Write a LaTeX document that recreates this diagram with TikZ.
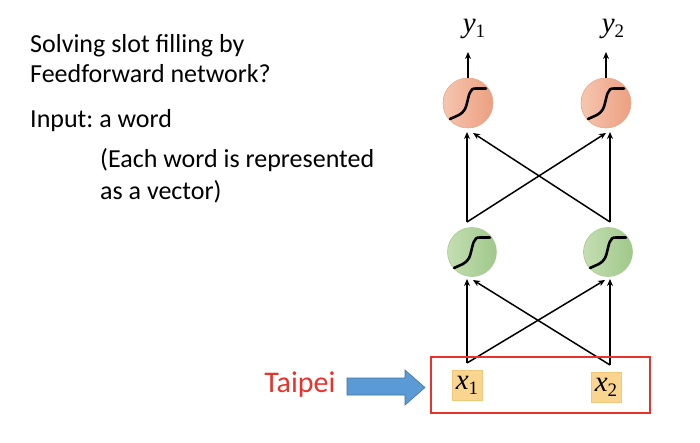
\documentclass[tikz,border=0pt]{standalone}
\usepackage{fontspec}
\setmainfont{Carlito}
\newfontfamily\tms{Liberation Serif}
\usetikzlibrary{arrows.meta}
\definecolor{orL}{HTML}{F6C6B0}
\definecolor{orR}{HTML}{EC9F80}
\definecolor{orB}{HTML}{E9A585}
\definecolor{grL}{HTML}{C4DEB2}
\definecolor{grR}{HTML}{A0C88A}
\definecolor{grB}{HTML}{A9CB94}
\definecolor{boxF}{HTML}{F9D590}
\definecolor{boxB}{HTML}{F1C77A}
\definecolor{redR}{HTML}{E8322B}
\definecolor{blueA}{HTML}{5B9BD5}
\definecolor{blueB}{HTML}{41719C}
\newcommand{\vlab}[2]{{\tms\fontsize{29}{29}\selectfont\itshape #1\/}{\tms\fontsize{19}{19}\selectfont\raisebox{-5pt}{#2}}}
\frenchspacing
\tikzset{
  neuronO/.style={circle,minimum size=50pt,inner sep=0pt,shading=axis,left color=orL,right color=orR,draw=orB,line width=0.6pt},
  neuronG/.style={circle,minimum size=49pt,inner sep=0pt,shading=axis,left color=grL,right color=grR,draw=grB,line width=0.6pt},
  conn/.style={line width=1.5pt,-{Stealth[length=7pt,width=6pt]}},
  inbox/.style={fill=boxF,draw=boxB,line width=0.5pt,minimum width=30pt,minimum height=30pt,inner sep=0pt},
  txt/.style={anchor=base west,inner sep=0pt,font=\fontsize{26}{30}\selectfont},
  sigmoid/.pic={\draw[line width=2.6pt,line cap=round] (-18,-16) .. controls (-12,-13) and (-6,-12) .. (-3,-6) .. controls (0,0) and (0,10) .. (4,13.5) .. controls (5,14.3) and (6,14.5) .. (8,14.5) -- (18,14.5);}
}
\begin{document}
\begin{tikzpicture}[x=1pt,y=1pt]
\useasboundingbox (0,0) rectangle (700,442);
% left text
\node[txt] (t1) at (30,389) {Solving slot filling by};
\node[txt] (t2) at (30,359) {Feedforward network?};
\node[txt] (t3) at (30,314) {Input: a word};
\node[txt] (t4) at (100,274) {(Each word is represented};
\node[txt] (t5) at (100,242) {as a vector)};
% neurons
\node[neuronO] (o1) at (468,339) {};
\node[neuronO] (o2) at (606,339) {};
\node[neuronG] (h1) at (472,190) {};
\node[neuronG] (h2) at (608,190) {};
\pic at (o1) {sigmoid};
\pic at (o2) {sigmoid};
\pic at (h1) {sigmoid};
\pic at (h2) {sigmoid};
% outputs
\coordinate (y1t) at (468,390);
\coordinate (y2t) at (606,390);
\draw[conn] (o1.north) -- (y1t);
\draw[conn] (o2.north) -- (y2t);
\node[anchor=base,inner sep=0pt] (y1) at (474,409) {\vlab{y}{1}};
\node[anchor=base,inner sep=0pt] (y2) at (613,409) {\vlab{y}{2}};
% hidden to output
\coordinate (hs1) at (467,220);
\coordinate (hs2) at (610,220);
\coordinate (ot1) at (467,310);
\coordinate (ot1b) at (473,309);
\coordinate (ot2) at (610,310);
\coordinate (ot2b) at (606,309);
\draw[conn] (hs1) -- (ot1);
\draw[conn] (hs1) -- (ot2b);
\draw[conn] (hs2) -- (ot2);
\draw[conn] (hs2) -- (ot1b);
% input to hidden
\coordinate (is1) at (467,79);
\coordinate (is2) at (610,77);
\coordinate (ht1) at (467,163);
\coordinate (ht1b) at (473,162);
\coordinate (ht2) at (610,163);
\coordinate (ht2b) at (605,162);
\draw[conn] (is1) -- (ht1);
\draw[conn] (is1) -- (ht2b);
\draw[conn] (is2) -- (ht2);
\draw[conn] (is2) -- (ht1b);
% inputs
\node[inbox] (x1) at (467,57) {\vlab{x}{1}};
\node[inbox] (x2) at (606,55) {\vlab{x}{2}};
\node[draw=redR,line width=2.6pt,minimum width=219pt,minimum height=56pt,inner sep=0pt] (frame) at (540.5,57) {};
% Taipei arrow
\draw[fill=blueA,draw=blueB,line width=0.6pt] (347,47) -- (405,47) -- (405,37) -- (425,54.5) -- (405,72) -- (405,64) -- (347,64) -- cycle;
\node[anchor=base,inner sep=0pt,text=redR,font=\fontsize{30}{30}\selectfont] (taipei) at (300,50) {Taipei};
\end{tikzpicture}
\end{document}
